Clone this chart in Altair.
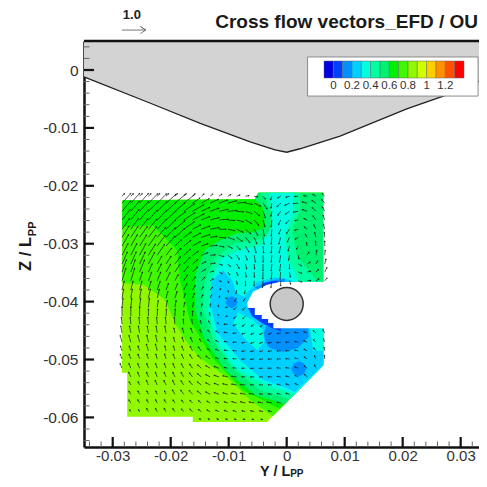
import math
import altair as alt
import pandas as pd

# ---- axis ranges and ticks (all lengths in units of 1e-3 L_PP) ----
y_domain = [-34.95, 33.16]
z_domain = [-65.11, 5.01]
y_major = [-30, -20, -10, 0, 10, 20, 30]
z_major = [0, -10, -20, -30, -40, -50, -60]
y_minor = [v for v in range(-34, 33, 2) if v % 10]
z_minor = [v for v in range(4, -65, -2) if v % 10]

# ---- colour levels ----
levels = [0, .1, .2, .3, .4, .5, .6, .7, .8, .9, 1.0, 1.1, 1.2, 1.3]
level_colors = ["#0000e0", "#0040ff", "#0090ff", "#00d0ff", "#00ffe0", "#00ffa0", "#00f070", "#00f000",
                "#40f800", "#90f800", "#d0ff00", "#ffd000", "#ff9000", "#ff5000", "#ff0000"]

# ---- hull section ----
hull_y = [-34.95, -23.6, -14.9, -6.3, -2.0, 0.0, 2.3, 9.2, 20.7, 27.0, 33.16]
hull_z = [-1.2, -5.7, -9.2, -12.4, -13.8, -14.2, -13.6, -11.4, -6.7, -4.5, -1.95]

# ---- filled contour bands: (level, Y list, Z list), painted in order ----
contour_bands = [
    (0.85, [-28.3, -5.5, -4.9, 6.3, 6.3, -3.4, -16.2, -16.2, -27.5, -27.5, -28.4],
           [-22.5, -22.3, -21.2, -21.2, -51.0, -60.8, -60.8, -59.9, -59.9, -52.3, -52.3]),
    (0.75, [-28.4, -24.6, -21.0, -19.1, -17.5, -15.0, -10.1, -6.3, -2.4, 6.3, 6.3, -4.9, -5.5, -28.3],
           [-36.8, -37.1, -39.7, -44.0, -46.6, -49.7, -53.2, -57.0, -59.8, -51.0, -21.2, -21.2, -22.3, -22.5]),
    (0.65, [-28.4, -23.1, -18.9, -18.4, -16.7, -12.9, -7.5, -1.2, 6.3, 6.3, -4.9, -5.5, -28.3],
           [-27.1, -26.8, -31.1, -36.3, -43.2, -49.6, -55.3, -58.5, -51.0, -21.2, -21.2, -22.3, -22.5]),
    (0.55, [-5.5, -4.1, -3.7, -5.8, -8.6, -11.5, -14.1, -15.8, -15.8, -14.1, -10.6, -5.5, -0.3, 6.3, 6.3, -4.9],
           [-22.3, -23.7, -27.1, -28.0, -28.2, -29.4, -31.1, -35.4, -41.5, -46.6, -51.8, -56.1, -57.7, -51.0, -21.2, -21.2]),
    (0.45, [-4.3, -2.5, -2.9, -5.5, -8.9, -12.4, -14.1, -14.4, -12.7, -9.3, -4.6, 0.6, 6.3, 6.3, 5.2, 1.8, 0.9, 2.3, 2.3],
           [-21.2, -25.0, -28.5, -29.4, -29.9, -32.5, -36.3, -41.5, -46.6, -51.5, -55.3, -56.8, -51.0, -36.6, -36.3, -32.3, -27.6, -24.2, -21.2]),
    (0.35, [-2.9, -2.5, -4.3, -8.1, -11.2, -12.7, -13.6, -12.0, -8.9, -3.7, 1.4, 6.3, 6.3, 2.3, 0.2, -0.3, 1.1, 1.1],
           [-21.2, -26.8, -30.2, -31.1, -32.5, -35.4, -41.5, -47.0, -51.5, -54.4, -56.0, -51.0, -36.6, -36.6, -32.8, -28.5, -25.0, -21.2]),
    (0.25, [-11.0, -9.4, -8.7, -6.8, 0.6, 6.3, 6.3, 1.4, -0.6, -4.1, -8.1, -12.0, -13.2, -12.9],
           [-34.6, -36.3, -38.5, -39.4, -41.5, -44.6, -51.0, -55.6, -54.7, -53.5, -50.1, -45.3, -40.2, -36.4]),
    (0.35, [-8.4, -5.8, -4.1, -3.9, -5.1, -7.5, -9.2],
           [-41.8, -43.2, -44.9, -47.1, -48.4, -46.1, -43.7]),
    (0.35, [6.3, 4.0, 4.6, 6.3], [-44.6, -44.6, -48.5, -48.5]),
    (0.25, [-7.5, -7.2, -5.1, -2.0, 0.9, 0.9, -3.7, -6.3],
           [-41.5, -38.9, -36.6, -35.8, -36.3, -38.0, -38.0, -40.6]),
    (0.15, [-3.9, -3.2, 3.7, 3.8, 1.9, -0.6, -2.9, -3.7],
           [-45.3, -43.5, -44.2, -46.1, -48.0, -48.7, -48.0, -47.0]),
    (0.15, [3.4, 3.0, 2.1, 1.2, 0.8, 1.2, 2.1, 3.0],
           [-51.6, -50.7, -50.3, -50.7, -51.6, -52.5, -52.9, -52.5]),
    (0.15, [-8.45, -8.8, -9.5, -10.2, -10.55, -10.2, -9.5, -8.8],
           [-40.1, -39.4, -39.05, -39.4, -40.1, -40.8, -41.15, -40.8]),
    (0.15, [-5.5, -2.9, -0.3, -0.3, -4.1], [-37.5, -36.4, -36.0, -37.5, -38.5]),
    (0.05, [-4.1, -1.6, -1.6, -4.1], [-36.8, -36.4, -37.6, -38.0]),
    (0.05, [-6.7, -6.0, -4.3, -2.5, -1.0, -1.0, -6.0], [-41.0, -42.5, -43.7, -44.6, -45.1, -44.0, -40.0]),
]

# ---- blanked measurement area around the hub ----
notch_y = [7.0, -1.2, -3.4, -5.8, -6.8, -6.7, -5.5, -5.5, -4.3, -4.3, -3.2, -3.2, -2.3, -2.3, -1.2, -1.2, 7.0]
notch_z = [-36.6, -36.6, -37.1, -38.3, -40.2, -41.1, -41.1, -42.3, -42.3, -43.0, -43.0, -43.7, -43.7, -44.6, -44.6, -44.6, -44.6]
hub_y, hub_z = [0.0], [-40.4]

# ---- cross-flow vectors: grid, compass direction (deg), speed class ----
grid_y = [-28.4 + 1.52 * i for i in range(24)]
grid_z = [-21.8, -23.0, -24.4, -25.9, -27.5, -28.9, -30.4, -32.0, -33.5, -34.9, -36.4, -38.0, -39.4, -41.0, -42.5,
          -43.9, -45.4, -47.0, -48.5, -49.9, -51.5, -53.0, -54.4, -56.0, -57.5, -59.0, -60.4]
_ = None
vec_dir = [
    [45,45,45,45,45,45,45,45,45,50,50,55,60,70,80,100,140,200,240,255,265,280,300,315],
    [42,42,42,45,45,48,50,52,55,60,65,70,75,85,100,115,145,190,225,245,265,285,305,320],
    [40,40,42,45,45,48,50,55,60,65,70,78,85,95,110,130,160,190,215,235,260,290,315,330],
    [38,38,40,42,45,48,52,57,62,68,75,85,95,105,120,140,165,185,205,225,260,295,325,340],
    [35,35,38,40,42,46,50,55,62,70,80,90,102,115,130,150,170,185,200,215,255,310,335,345],
    [32,33,35,38,40,44,48,55,62,72,82,95,110,125,140,158,172,185,195,205,240,330,345,355],
    [30,30,32,35,37,42,46,52,60,70,85,100,118,135,150,165,175,185,192,195,210,350,355,0],
    [27,27,28,32,34,38,42,48,55,68,85,105,125,145,158,170,178,185,190,190,170,30,10,5],
    [24,24,25,28,30,33,38,43,50,62,80,110,135,150,165,175,180,185,188,180,120,60,30,15],
    [20,20,22,24,27,30,33,38,45,55,75,115,145,160,170,178,182,185,185,170,110,75,45,25],
    [17,17,18,20,22,25,28,33,38,45,60,110,155,170,178,182,185,188,180,160,110,85,60,40],
    [14,14,14,16,18,20,23,27,30,33,40,60,160,190,195,_,_,_,_,_,_,_,_,_],
    [10,10,10,12,13,15,18,20,22,25,25,20,270,210,215,_,_,_,_,_,_,_,_,_],
    [6,6,6,6,8,10,10,12,12,12,5,340,270,235,225,_,_,_,_,_,_,_,_,_],
    [0,0,0,0,2,3,3,3,2,355,350,325,260,230,225,_,_,_,_,_,_,_,_,_],
    [355,355,355,355,355,355,355,355,350,345,335,310,270,245,235,235,225,_,_,_,_,_,_,_],
    [350,350,350,350,350,350,348,345,340,335,320,300,280,262,252,245,242,248,258,268,278,290,310,330],
    [345,345,345,347,347,347,345,342,337,330,315,298,282,268,258,250,250,255,262,270,280,292,315,340],
    [342,342,342,343,345,345,342,338,332,322,310,295,282,270,262,258,258,262,268,272,282,298,325,350],
    [340,340,340,342,343,343,340,335,327,315,303,292,280,272,266,262,262,266,270,275,285,305,335,355],
    [338,338,338,340,340,340,337,332,325,312,300,290,282,275,270,267,267,270,275,280,290,310,335,_],
    [_,335,337,338,338,338,335,330,322,310,298,288,282,277,273,270,270,272,277,282,295,315,_,_],
    [_,333,335,336,336,335,333,328,320,308,298,290,284,280,276,274,274,275,280,285,295,_,_,_],
    [_,330,332,334,334,333,330,325,318,308,298,290,286,282,280,278,277,278,282,287,_,_,_,_],
    [_,328,330,332,332,330,328,322,315,307,298,292,288,285,283,281,280,281,283,_,_,_,_,_],
    [_,327,328,330,330,328,325,320,313,306,298,293,290,287,285,284,283,284,_,_,_,_,_,_],
    [_,_,_,_,_,_,_,_,_,300,296,293,290,288,287,286,286,_,_,_,_,_,_,_],
]
vec_speed = [
    [2,2,2,2,2,2,2,2,2,2,2,2,2,2,2,2,2,2,2,2,2,2,2,2],
    [6,6,6,6,6,6,6,6,5,5,5,5,5,5,4,4,4,3,3,3,3,3,3,3],
    [6,6,6,6,6,6,6,6,6,5,5,5,5,4,4,4,4,3,3,3,3,3,3,3],
    [6,6,6,6,6,6,6,6,6,5,5,5,4,4,4,4,4,4,3,3,2,2,3,3],
    [6,6,6,6,6,6,6,6,5,5,5,4,4,4,4,4,4,4,3,3,2,2,3,3],
    [6,6,6,6,6,6,6,5,5,5,4,4,4,4,4,4,4,4,4,3,2,2,3,3],
    [6,6,6,6,6,6,5,5,5,4,4,3,3,3,4,4,4,4,4,3,2,2,3,3],
    [6,6,6,6,6,5,5,5,4,4,3,3,3,3,3,4,4,4,4,3,2,2,3,3],
    [6,6,6,6,5,5,5,5,4,3,3,2,2,3,3,3,4,4,4,3,2,2,2,3],
    [6,6,6,5,5,5,5,4,4,3,2,2,2,2,3,3,4,4,4,3,2,2,2,3],
    [6,6,5,5,5,5,4,4,3,3,2,1,1,2,3,3,4,4,3,2,2,2,2,2],
    [5,5,5,5,5,4,4,4,3,2,2,1,1,2,2,_,_,_,_,_,_,_,_,_],
    [5,5,5,5,5,4,4,3,3,2,2,1,1,2,2,_,_,_,_,_,_,_,_,_],
    [5,5,5,5,4,4,4,3,3,2,2,1,1,2,2,_,_,_,_,_,_,_,_,_],
    [5,5,5,4,4,4,4,3,3,2,2,1,1,2,2,_,_,_,_,_,_,_,_,_],
    [4,4,4,4,4,4,4,3,3,2,2,1,2,2,2,2,2,_,_,_,_,_,_,_],
    [4,4,4,4,4,4,3,3,3,2,2,2,2,2,2,2,2,2,2,2,2,2,2,2],
    [4,4,4,4,4,3,3,3,3,2,2,2,2,2,2,2,2,2,2,2,2,2,2,2],
    [3,3,3,4,4,3,3,3,3,3,2,2,2,2,2,2,2,2,2,2,2,2,2,2],
    [3,3,3,3,3,3,3,3,3,3,3,2,2,2,2,2,2,2,2,2,2,2,2,2],
    [3,3,3,3,3,3,3,3,3,3,3,3,2,2,2,2,2,2,2,2,2,2,2,_],
    [_,3,3,3,3,3,3,3,3,3,3,3,3,3,2,2,2,2,2,2,2,2,_,_],
    [_,2,2,3,3,3,3,3,3,3,3,3,3,3,3,2,2,2,2,2,2,_,_,_],
    [_,2,2,2,2,2,3,3,3,3,3,3,3,3,3,3,2,2,2,2,_,_,_,_],
    [_,2,2,2,2,2,2,2,2,2,2,2,2,3,3,3,3,3,2,_,_,_,_,_],
    [_,1,1,2,2,2,2,2,2,2,2,2,2,2,2,2,2,2,_,_,_,_,_,_],
    [_,_,_,_,_,_,_,_,_,1,1,1,1,1,1,1,1,_,_,_,_,_,_,_],
]
speed_of_class = [0.0, 0.09, 0.15, 0.21, 0.29, 0.38, 0.55]
unit_vector = 4.1  # drawn length of velocity 1.0 in 1e-3 L_PP

# ---- texts ----
title_text = "Cross flow vectors_EFD / OU"
font = "Liberation Sans"

# ---- tables ----
rows = []
for n, (lev, ys_, zs_) in enumerate(contour_bands):
    for k, (a, b) in enumerate(zip(ys_, zs_)):
        rows.append(dict(band=f"b{n:02d}", level=lev, Y=a / 1000, Z=b / 1000, k=k))
bands_df = pd.DataFrame(rows)

vec_rows, tip_rows = [], []
for j, z in enumerate(grid_z):
    for i, y in enumerate(grid_y):
        d, s = vec_dir[j][i], vec_speed[j][i]
        if d is None:
            continue
        l = speed_of_class[s] * unit_vector
        ty = (y + l * math.sin(math.radians(d))) / 1000
        tz = (z + l * math.cos(math.radians(d))) / 1000
        vec_rows.append(dict(v=f"{j}_{i}", k=0, Y=y / 1000, Z=z / 1000))
        vec_rows.append(dict(v=f"{j}_{i}", k=1, Y=ty, Z=tz))
        tip_rows.append(dict(Y=ty, Z=tz, d=d))
vec_df = pd.DataFrame(vec_rows)
tip_df = pd.DataFrame(tip_rows)

xs = alt.Scale(domain=[v / 1000 for v in y_domain], nice=False, zero=False)
ys = alt.Scale(domain=[v / 1000 for v in z_domain], nice=False, zero=False)
x_axis = alt.Axis(values=[v / 1000 for v in y_major], title=None, grid=False, ticks=False, domainWidth=2.5,
                  domainColor="#111", labelFont=font, labelFontSize=15, labelColor="#333", labelPadding=1,
                  labelExpr="toString(datum.value)")
y_axis = alt.Axis(values=[v / 1000 for v in z_major], title=None, grid=False, ticks=False, domainWidth=2.5,
                  domainColor="#111", labelFont=font, labelFontSize=15.5, labelColor="#333", labelPadding=6,
                  labelExpr="toString(datum.value)")
X = lambda f="Y": alt.X(f"{f}:Q", scale=xs, axis=x_axis)
Y = lambda f="Z": alt.Y(f"{f}:Q", scale=ys, axis=y_axis)


def poly(y, z):
    return pd.DataFrame(dict(Y=[v / 1000 for v in y], Z=[v / 1000 for v in z], k=range(len(y))))


# hull
hull_fill = alt.Chart(poly(hull_y + [y_domain[1], y_domain[0]], hull_z + [z_domain[1], z_domain[1]])).mark_line(
    fill="#d3d3d3", strokeWidth=0).encode(x=X(), y=Y(), order="k:Q")
hull_line = alt.Chart(poly(hull_y, hull_z)).mark_line(color="#222", strokeWidth=1.3).encode(x=X(), y=Y(), order="k:Q")

# top frame line
frame_top = alt.Chart(pd.DataFrame(dict(Y=[y_domain[0] / 1000], Y2=[y_domain[1] / 1000], Z=[z_domain[1] / 1000]))).mark_rule(
    color="#111", strokeWidth=2.5).encode(x=X(), x2="Y2:Q", y=Y())

# contours with legend
contours = alt.Chart(bands_df).mark_line(strokeWidth=0).encode(
    x=X(), y=Y(), detail="band:N", order="k:Q",
    fill=alt.Fill("level:Q", scale=alt.Scale(type="threshold", domain=levels, range=level_colors),
                  legend=alt.Legend(type="gradient", orient="none", legendX=240, legendY=20, direction="horizontal",
                                    gradientLength=140, gradientThickness=17, title=None,
                                    padding=0, labelFont=font, labelFontSize=11.5, labelColor="#333",
                                    labelOverlap=False, gradientStrokeColor="#666", gradientStrokeWidth=0.5,
                                    labelExpr="(round(datum.value*10)%2==0 && datum.value<1.3) ? toString(datum.value) : ''")),
)
notch = alt.Chart(poly(notch_y, notch_z)).mark_line(fill="white", strokeWidth=0).encode(x=X(), y=Y(), order="k:Q")

vec_lines = alt.Chart(vec_df).mark_line(color="#1a1a1a", strokeWidth=0.85, opacity=0.85).encode(
    x=X(), y=Y(), detail="v:N", order="k:Q")
vec_heads = alt.Chart(tip_df).mark_point(shape="triangle-up", filled=True, size=4, color="#1a1a1a", opacity=0.85).encode(
    x=X(), y=Y(), angle=alt.Angle("d:Q", scale=None))

hub = alt.Chart(poly(hub_y, hub_z)).mark_point(filled=True, size=1089, fill="#c8c8c8", stroke="#333", strokeWidth=1.5, opacity=1).encode(
    x=X(), y=Y())

# ticks
tk = lambda v: v / 1000
x_maj = pd.DataFrame(dict(Y=[tk(v) for v in y_major], Z=tk(z_domain[0]), Z2=tk(z_domain[0] + 1.73)))
x_min = pd.DataFrame(dict(Y=[tk(v) for v in y_minor], Z=tk(z_domain[0]), Z2=tk(z_domain[0] + 0.95)))
y_maj = pd.DataFrame(dict(Z=[tk(v) for v in z_major], Y=tk(y_domain[0]), Y2=tk(y_domain[0] + 1.72)))
y_min = pd.DataFrame(dict(Z=[tk(v) for v in z_minor], Y=tk(y_domain[0]), Y2=tk(y_domain[0] + 0.95)))
ticks = [
    alt.Chart(x_min).mark_rule(color="#666", strokeWidth=1).encode(x=X(), y=Y(), y2="Z2:Q"),
    alt.Chart(y_min).mark_rule(color="#666", strokeWidth=1).encode(y=Y(), x=X(), x2="Y2:Q"),
    alt.Chart(x_maj).mark_rule(color="#111", strokeWidth=2.2).encode(x=X(), y=Y(), y2="Z2:Q"),
    alt.Chart(y_maj).mark_rule(color="#111", strokeWidth=2.2).encode(y=Y(), x=X(), x2="Y2:Q"),
]

# legend frame
legend_box = alt.Chart(pd.DataFrame(dict(Y=[0.0036], Y2=[0.0330], Z=[0.00225], Z2=[-0.0045]))).mark_rect(
    fill="white", stroke="#8a8a8a", strokeWidth=1).encode(x=X(), x2="Y2:Q", y=Y(), y2="Z2:Q")

# reference arrow: shaft and open head
ref_df = pd.DataFrame(dict(Y=[-.0284, -.0243, -.0252, -.0243, -.0252], Z=[.0069, .0069, .0075, .0069, .0063], k=range(5)))
ref_arrow = alt.Chart(ref_df).mark_line(color="#666", strokeWidth=0.9).encode(x=X(), y=Y(), order="k:Q")


def text(s, y, z, size, bold=True, align="center", angle=0, color="#222"):
    return alt.Chart(pd.DataFrame(dict(Y=[y], Z=[z], t=[s]))).mark_text(
        font=font, fontSize=size, fontWeight="bold" if bold else "normal", align=align, baseline="alphabetic",
        angle=angle, color=color).encode(x=X(), y=Y(), text="t:N")


labels = [
    text("1.0", -.0267, .0088, 13),
    text(title_text, .0330, .0072, 19, align="right", color="#1a1a1a"),
    text("Y / L", -.0046, -.0702, 14.5, align="left", color="#1a1a1a"),
    text("PP", .0006, -.0703, 10, align="left", color="#1a1a1a"),
    text("Z / L", -.0441, -.0347, 16.5, align="left", angle=270, color="#1a1a1a"),
    text("PP", -.0432, -.0287, 11, align="left", angle=270, color="#1a1a1a"),
]

chart = alt.layer(
    hull_fill, hull_line, contours, notch, vec_lines, vec_heads, hub, *ticks, frame_top, legend_box, ref_arrow, *labels
).properties(
    width=395, height=406,
    padding={"left": 76, "top": 33, "right": 0, "bottom": 32},
    autosize=alt.AutoSizeParams(type="none"),
).configure_view(stroke=None)

chart.save("out.html", embed_options={"renderer": "svg", "actions": False})
